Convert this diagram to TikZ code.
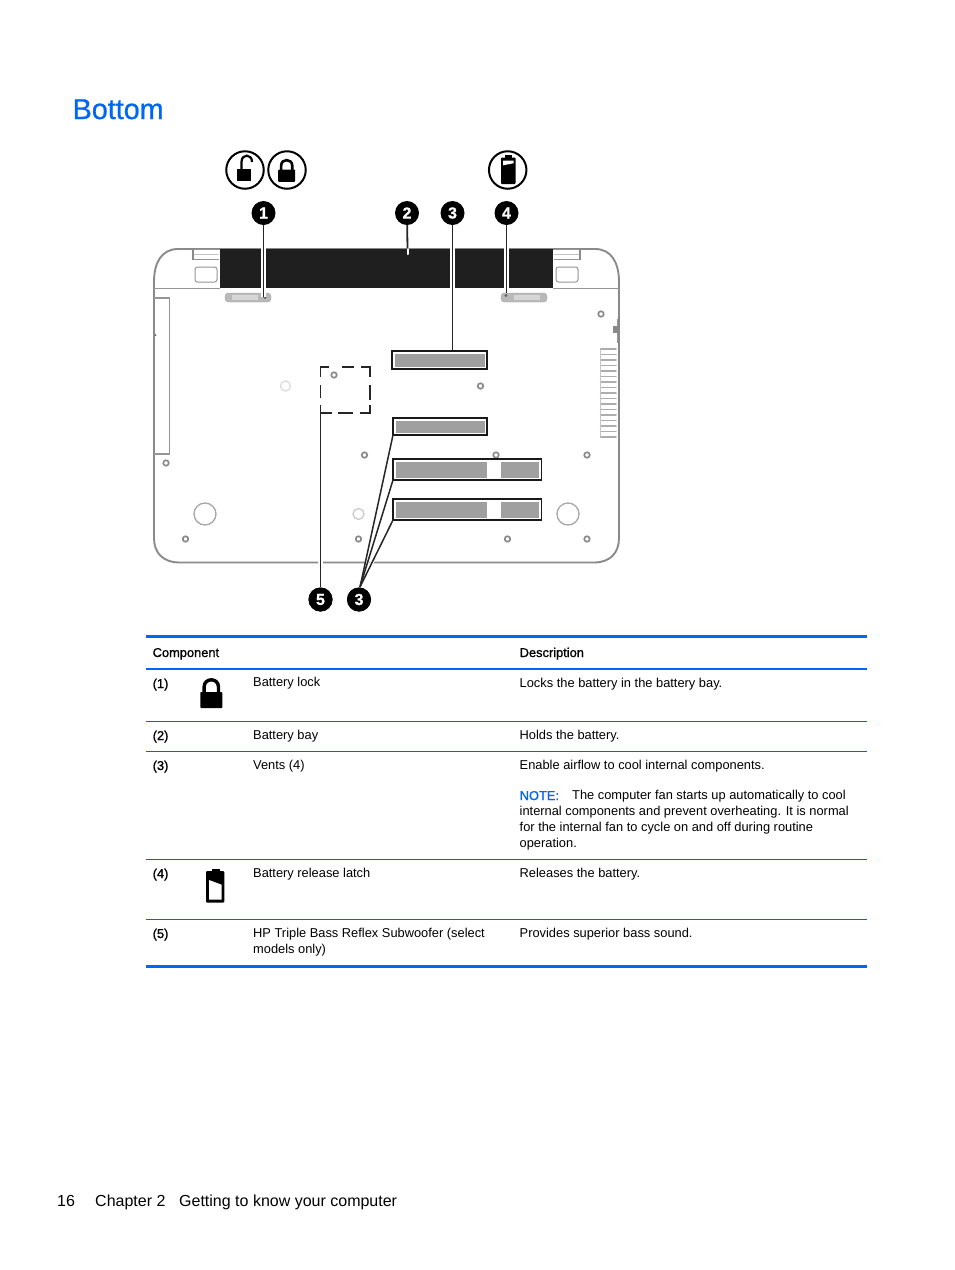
\documentclass[tikz,border=0pt]{standalone}
\usepackage{fontspec}
\setmainfont{Liberation Sans}
\newfontfamily\fakebold[FakeBold=1.0]{Liberation Sans}
\newfontfamily\titlefont[FakeBold=0.7]{Liberation Sans}
\newfontfamily\calloutfont[FakeBold=0.8]{Liberation Sans Bold}
\usetikzlibrary{calc}
\definecolor{hpblue}{HTML}{0066F5}
\definecolor{rowblue}{HTML}{0A5FDC}
\definecolor{bodyline}{HTML}{8A8A8A}
\definecolor{ventgray}{HTML}{A0A0A0}
\definecolor{lightring}{HTML}{DCDCDC}
\tikzset{
  x=1pt,y=-1pt,
  outline/.style={draw=bodyline,line width=1.9pt},
  thinl/.style={draw=bodyline!90,line width=1pt},
  screw/.style={circle,draw=bodyline,line width=1.7pt,fill=white,minimum size=5.5pt,inner sep=0pt},
  ring/.style={circle,draw=bodyline!75,line width=1.3pt,minimum size=22pt,inner sep=0pt},
  faint/.style={circle,draw=lightring,line width=1.3pt,minimum size=10pt,inner sep=0pt},
  callout/.style={circle,fill=black,text=white,font=\calloutfont\fontsize{16}{16}\selectfont,minimum size=24pt,inner sep=0pt},
  leader/.style={draw=black!85,line width=1.8pt},
  halo/.style={draw=white,line width=4.2pt},
  dashseg/.style={draw=black!85,line width=1.7pt},
  ventbox/.style={draw=black!90,line width=1.7pt,fill=white},
  ventfill/.style={fill=ventgray},
  cell/.style={anchor=base west,inner sep=0pt,font=\fontsize{12.85}{15.6}\selectfont,align=left},
  head/.style={cell,font=\fakebold\fontsize{12.85}{15.6}\selectfont},
  icnring/.style={circle,draw=black,line width=2pt,minimum size=37.5pt,inner sep=0pt},
  rowline/.style={draw=rowblue,line width=.9pt},
  headline/.style={draw=hpblue,line width=1.8pt},
  ruleline/.style={draw=hpblue,line width=3.4pt},
}
\newcommand{\lockicon}[3]{% x y scale
  \begin{scope}[shift={(#1,#2)},scale=#3]
    \fill[black,rounded corners=.8pt] (-11,0) rectangle (11,16);
    \draw[black,line width=#3*3.4pt] (-7.2,1) -- (-7.2,-5) .. controls (-7.2,-14.6) and (7.2,-14.6) .. (7.2,-5) -- (7.2,1);
  \end{scope}}
\begin{document}
\begin{tikzpicture}
\useasboundingbox (0,0) rectangle (954,1270);
\fill[white] (0,0) rectangle (954,1270);

\node[anchor=base west,inner sep=0pt,text=hpblue,font=\titlefont\fontsize{28.7}{30}\selectfont] (title) at (72.5,119) {Bottom};

% laptop body
\draw[outline] (192,249) -- (178,249) .. controls (162,249) and (154,262) .. (154,282) -- (154,538) .. controls (154,553) and (163,562.5) .. (180,562.5) -- (594,562.5) .. controls (610,562.5) and (619,553) .. (619,538) -- (619,282) .. controls (619,262) and (611,249) .. (595,249) -- (580,249);
\draw[outline] (192,249) -- (580,249);
\draw[thinl] (154,288) -- (220,288);
\draw[thinl] (553,288) -- (619,288);
% battery bay
\fill[black!88] (220,249) rectangle (553,288);
% left hinge
\draw[thinl] (193,249) -- (219,249) (193,249) -- (193,259.5) -- (219,259.5);
\draw[bodyline,line width=1.6pt] (193,249) -- (193,259.5);
\draw[thinl,draw=bodyline!50] (194,254.5) -- (219,254.5);
\draw[thinl,rounded corners=2.5pt] (195,267) rectangle (217,282);
% right hinge
\draw[thinl] (554,249) -- (580,249) (554,259.5) -- (580,259.5);
\draw[bodyline,line width=1.6pt] (580,249) -- (580,259.5);
\draw[thinl,draw=bodyline!50] (554,254.5) -- (579,254.5);
\draw[thinl,rounded corners=2.5pt] (556,267) rectangle (578,282);
% latches
\draw[rounded corners=3.5pt,fill=bodyline!60,draw=bodyline!80] (225,293) rectangle (271,302);
\fill[bodyline!35] (232,295) rectangle (258,300);
\fill[black!60] (265,297.5) circle (1.6);
\draw[rounded corners=3.5pt,fill=bodyline!60,draw=bodyline!80] (501,293) rectangle (547,302);
\fill[bodyline!35] (514,295) rectangle (540,300);
\fill[black!60] (506,295.5) circle (1.6);
% left drive panel
\draw[thinl,line width=1.2pt] (154,298) -- (169.5,298) -- (169.5,454) -- (154,454);
\fill[black!60] (155.5,335) circle (1);
% right strip vents
\foreach \yy in {349,354.5,360,365.5,371,376.5,382,387.5,393,398.5,404,409.5,415,420.5,426,431.5,437}
  \draw[bodyline!70,line width=1.5pt,line cap=round] (600.5,\yy) -- (616,\yy);
\draw[bodyline!50,line width=1pt] (600,349) -- (600,437);
\draw[thinl] (617,319) -- (617,343);
\fill[bodyline] (613,326) rectangle (618,333);
% screws
\foreach \sx/\sy/\nm in {601/314/s1,480.5/386/s2,166/463/s3,364.5/455/s4,587/455/s5,185.5/539/s6,358.5/539/s7,507.5/539/s8,587/539/s9,334/375/s10,496/455/s11}
  \node[screw] (\nm) at (\sx,\sy) {};
\node[ring] (r1) at (205,514) {};
\node[ring] (r2) at (568,514) {};
\node[faint] (f1) at (285.5,386) {};
\node[faint,minimum size=11pt,draw=bodyline!45] (f2) at (358.5,514) {};

% subwoofer dashed square
\draw[dashseg] (329,366.7) -- (320.5,366.7) -- (320.5,377);
\draw[dashseg] (342,366.7) -- (354,366.7);
\draw[dashseg] (361,366.7) -- (370,366.7) -- (370,377);
\draw[dashseg] (320.5,385) -- (320.5,398);
\draw[dashseg] (370,385) -- (370,400);
\draw[dashseg] (370,405) -- (370,413) -- (360,413);
\draw[dashseg] (353,413) -- (338,413);
\draw[dashseg] (332,413) -- (320.5,413);

% vents
\draw[ventbox] (392,351) rectangle (487,369);
\fill[ventfill] (394.5,353.5) rectangle (484.5,366.5);
\draw[ventbox] (393,418) rectangle (487,435);
\fill[ventfill] (395.5,420.5) rectangle (484.5,432.5);
\coordinate (v2c) at (393,435);
\draw[ventbox] (393,459.3) rectangle (541.5,480);
\fill[ventfill] (396,461.8) rectangle (487,477.5);
\fill[ventfill] (501,461.8) rectangle (539,477.5);
\coordinate (v3c) at (393,480);
\draw[ventbox] (393,499.3) rectangle (541.5,520);
\fill[ventfill] (396,501.8) rectangle (487,517.5);
\fill[ventfill] (501,501.8) rectangle (539,517.5);
\coordinate (v4c) at (393,520);
\coordinate (v1top) at (452.5,351);

% leader end points
\coordinate (t1) at (263.5,297);
\coordinate (bay2) at (407.5,249);
\coordinate (t2) at (407.5,254);
\coordinate (t4) at (506.5,293);
\coordinate (t5) at (320.5,405);

% callouts
\node[callout] (c1) at (263.5,213) {1};
\node[callout] (c2) at (407,213) {2};
\node[callout] (c3) at (452.5,213) {3};
\node[callout] (c4) at (506.5,213) {4};
\node[callout] (c5) at (320.5,599.5) {5};
\node[callout] (c6) at (359,599.5) {3};
\coordinate (c6a) at (360,587);

% leaders with white halo
\draw[halo] (263.5,246) -- (t1);
\draw[leader] (c1) -- (t1);
\draw[leader] (c2) -- (bay2);
\draw[white,line width=2pt,line cap=round] (bay2) -- (t2);
\draw[halo] (452.5,246) -- (452.5,291);
\draw[leader] (c3) -- (v1top);
\draw[halo] (506.5,246) -- (506.5,291);
\draw[leader] (c4) -- (t4);
\draw[halo] (320.5,556) -- (320.5,568);
\draw[leader] (c5) -- (t5);
\draw[white,line width=3.4pt] ($(c6a)!.48!(v2c)$) -- ($(c6a)!.22!(v2c)$);
\draw[white,line width=3.4pt] ($(c6a)!.48!(v3c)$) -- ($(c6a)!.12!(v3c)$);
\draw[white,line width=3.4pt] ($(c6a)!.5!(v4c)$) -- ($(c6a)!.2!(v4c)$);
\draw[leader,line width=1.5pt] (c6a) -- (v2c);
\draw[leader,line width=1.5pt] (c6a) -- (v3c);
\draw[leader,line width=1.5pt] (c6a) -- (v4c);
\node[callout] at (c6) {3};
\node[callout] at (c5) {5};

% top icons
\node[icnring] (i1) at (245,170) {};
\node[icnring] (i2) at (287,170) {};
\node[icnring] (i3) at (507.7,170) {};
\fill[black] (236.7,169) rectangle (251,180.5);
\draw[black,line width=2.2pt] (241.5,169.5) -- (241.5,162) .. controls (241.5,153.5) and (252,153.5) .. (252,162);
\lockicon{286.7}{169.5}{.77}
\fill[black,rounded corners=.8pt] (501,157.5) rectangle (515.5,184);
\fill[black] (505,155) rectangle (512,158);
\fill[white] (503,160.5) -- (513.5,160.5) -- (513.5,163.3) -- (503,165.3) -- cycle;

% table
\draw[ruleline] (146,636.5) -- (867,636.5);
\draw[headline] (146,669) -- (867,669);
\draw[rowline] (146,721.5) -- (867,721.5);
\draw[rowline] (146,751.5) -- (867,751.5);
\draw[rowline] (146,859.5) -- (867,859.5);
\draw[rowline] (146,919.5) -- (867,919.5);
\draw[ruleline] (146,966.5) -- (867,966.5);

\node[head] (h1) at (152.5,657) {Component};
\node[head] (h2) at (519.5,657) {Description};
\node[head] (n1) at (152.5,688) {(1)};
\node[cell] (a1) at (253,686.5) {Battery lock};
\node[cell] (d1) at (519.5,687) {Locks the battery in the battery bay.};
\node[head] (n2) at (152.5,740) {(2)};
\node[cell] (a2) at (253,739) {Battery bay};
\node[cell] (d2) at (519.5,739) {Holds the battery.};
\node[head] (n3) at (152.5,770) {(3)};
\node[cell] (a3) at (253,769) {Vents (4)};
\node[cell] (d3) at (519.5,769) {Enable airflow to cool internal components.};
\node[head,text=hpblue] (nt) at (519.5,800) {NOTE:};
\node[cell] (d3a) at (572,799) {The computer fan starts up automatically to cool};
\node[cell] (d3b) at (519.5,815) {internal components and prevent overheating. It is normal};
\node[cell] (d3c) at (519.5,831) {for the internal fan to cycle on and off during routine};
\node[cell] (d3d) at (519.5,847) {operation.};
\node[head] (n4) at (152.5,878) {(4)};
\node[cell] (a4) at (253,877) {Battery release latch};
\node[cell] (d4) at (519.5,877) {Releases the battery.};
\node[head] (n5) at (152.5,938) {(5)};
\node[cell] (a5) at (253,937) {HP Triple Bass Reflex Subwoofer (select};
\node[cell] (a5b) at (253,953) {models only)};
\node[cell] (d5) at (519.5,937) {Provides superior bass sound.};

% table icons
\lockicon{211.3}{692}{1}
\fill[black,rounded corners=1.2pt] (206,871) rectangle (224.3,902.7);
\fill[black] (211.7,869) rectangle (220,872);
\fill[white] (209,880) -- (221.7,884.7) -- (221.7,899.7) -- (209,899.7) -- cycle;

% footer
\node[anchor=base west,inner sep=0pt,font=\fontsize{16}{18}\selectfont] (pg) at (57,1206) {16};
\node[anchor=base west,inner sep=0pt,font=\fontsize{16}{18}\selectfont] (ch) at (95,1206) {Chapter 2};
\node[anchor=base west,inner sep=0pt,font=\fontsize{16}{18}\selectfont] (gt) at (179,1206) {Getting to know your computer};
\end{tikzpicture}
\end{document}
